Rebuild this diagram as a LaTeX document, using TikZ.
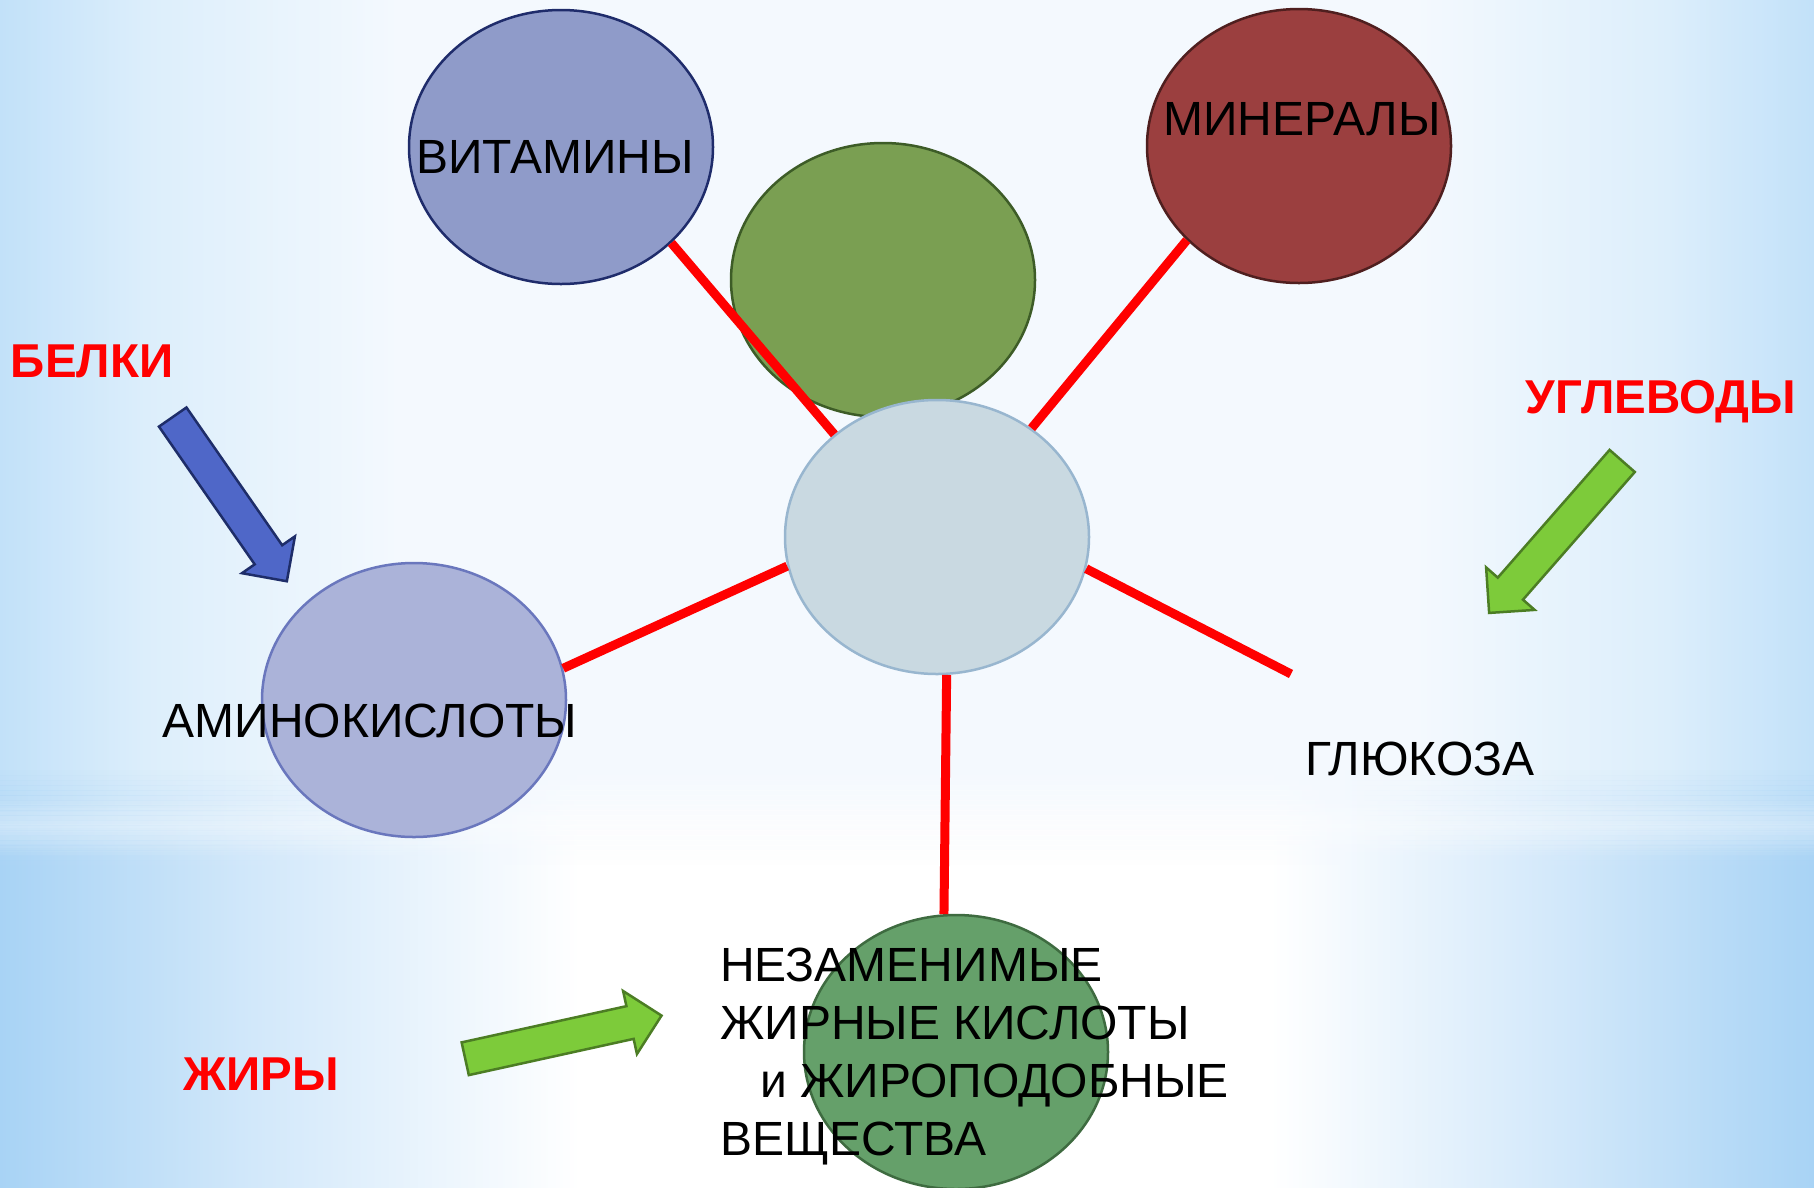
\documentclass[tikz,border=0pt]{standalone}
\usepackage{fontspec}
\setmainfont{Liberation Sans}
\usetikzlibrary{shapes.geometric,shapes.arrows}

\definecolor{skyedge}{HTML}{C2E1F9}
\definecolor{skysoft}{HTML}{DCEEFB}
\definecolor{skymid}{HTML}{F4F9FE}
\definecolor{seaedge}{HTML}{A8D3F5}
\definecolor{seasoft}{HTML}{D2E8FA}
\definecolor{vitfill}{HTML}{8F9BC9}
\definecolor{vitline}{HTML}{1F2C6B}
\definecolor{leaffill}{HTML}{7A9F52}
\definecolor{leafline}{HTML}{3D5C27}
\definecolor{minfill}{HTML}{9B3F3F}
\definecolor{minline}{HTML}{4F1F1F}
\definecolor{hubfill}{HTML}{C9D9E1}
\definecolor{hubline}{HTML}{98B6CF}
\definecolor{aminofill}{HTML}{ABB3D9}
\definecolor{aminoline}{HTML}{6A77BD}
\definecolor{fatfill}{HTML}{65A06A}
\definecolor{fatline}{HTML}{3E6B40}
\definecolor{bluearrow}{HTML}{4F67C8}
\definecolor{bluearrowline}{HTML}{1E2D69}
\definecolor{greenarrow}{HTML}{7DCB3A}
\definecolor{greenarrowline}{HTML}{4C7D24}

\pgfdeclarehorizontalshading{skytop}{100bp}{color(0bp)=(skyedge); color(25bp)=(skyedge); color(29bp)=(skysoft); color(36bp)=(skymid); color(64bp)=(skymid); color(71bp)=(skysoft); color(75bp)=(skyedge); color(100bp)=(skyedge)}
\pgfdeclarehorizontalshading{skybottom}{100bp}{color(0bp)=(seaedge); color(25bp)=(seaedge); color(32bp)=(seasoft); color(41bp)=(white); color(60bp)=(white); color(68bp)=(seasoft); color(75bp)=(seaedge); color(100bp)=(seaedge)}

\tikzset{
  ball/.style={ellipse, minimum width=304pt, minimum height=274pt, line width=2.5pt},
  word/.style={font=\fontsize{48}{58}\selectfont, inner sep=0pt, anchor=base},
  redword/.style={word, font=\fontsize{47.5}{58}\selectfont\bfseries, text=red},
  spoke/.style={red, line width=9pt},
  fatarrow/.style={single arrow, single arrow head extend=15.5pt, inner xsep=0pt, inner ysep=15.5pt, line width=2.5pt, anchor=tail}
}

\begin{document}
\begin{tikzpicture}[x=1pt, y=-1pt]
    \useasboundingbox (0,0) rectangle (1814,1187);
    \clip (0,0) rectangle (1814,1187);

    % background
    \shade[shading=skytop] (0,0) rectangle (1814,1187);
    \foreach \k [evaluate=\k as \o using {\k/20+0.05}] in {0,...,19}
        \shade[shading=skybottom, opacity=\o] (0,770+\k*5) rectangle (1814,775+\k*5);
    \shade[shading=skybottom] (0,870) rectangle (1814,1187);
    \foreach \k [evaluate=\k as \o using {0.35*(1-abs(\k-7)/8)}] in {0,...,14}
        \fill[white, opacity=\o] (0,796+\k*4) rectangle (1814,800+\k*4);

    \node[ball, draw=leafline, fill=leaffill] (leaf) at (883,280) {};
    \node[ball, draw=vitline, fill=vitfill] (vit) at (561,147) {};
    \node[ball, draw=minline, fill=minfill] (min) at (1299,146) {};
    \node[ball, draw=hubline, fill=hubfill] (hub) at (937,537) {};
    \node[ball, draw=aminoline, fill=aminofill] (amino) at (414,700) {};
    \node[ball, draw=fatline, fill=fatfill] (fat) at (956,1052) {};
    \coordinate (glu-end) at (1291,674);

    \draw[spoke] (vit.-41) -- (hub.135);
    \draw[spoke] (min.220) -- (hub.49);
    \draw[spoke] (hub.191) -- (amino.12);
    \draw[spoke] (hub.-12) -- (glu-end);
    \draw[spoke] (hub.-86) -- (fat.95);

    \node[word] (vit-txt) at (555,173) {ВИТАМИНЫ};
    \node[word] (min-txt) at (1302,135) {МИНЕРАЛЫ};
    \node[word] (amino-txt) at (370,737) {АМИНОКИСЛОТЫ};
    \node[word] (glu-txt) at (1420,775) {ГЛЮКОЗА};
    \node[word, anchor=base west, align=left] (fat-txt) at (720,1155)
        {НЕЗАМЕНИМЫЕ\\ЖИРНЫЕ КИСЛОТЫ\\\hspace*{40pt}и ЖИРОПОДОБНЫЕ\\ВЕЩЕСТВА};

    \node[redword] (belki) at (92,377) {БЕЛКИ};
    \node[redword] (ugl) at (1661,413) {УГЛЕВОДЫ};
    \node[redword] (zhiry) at (261,1090) {ЖИРЫ};

    \node[fatarrow, draw=bluearrowline, fill=bluearrow, minimum height=200pt, rotate=-55.2] (belki-arrow) at (172,416) {};
    \node[fatarrow, draw=greenarrowline, fill=greenarrow, minimum height=202pt, rotate=-131.2] (ugl-arrow) at (1623,460) {};
    \node[fatarrow, draw=greenarrowline, fill=greenarrow, minimum height=201pt, rotate=12.4] (zhiry-arrow) at (464,1059) {};

\end{tikzpicture}
\end{document}
